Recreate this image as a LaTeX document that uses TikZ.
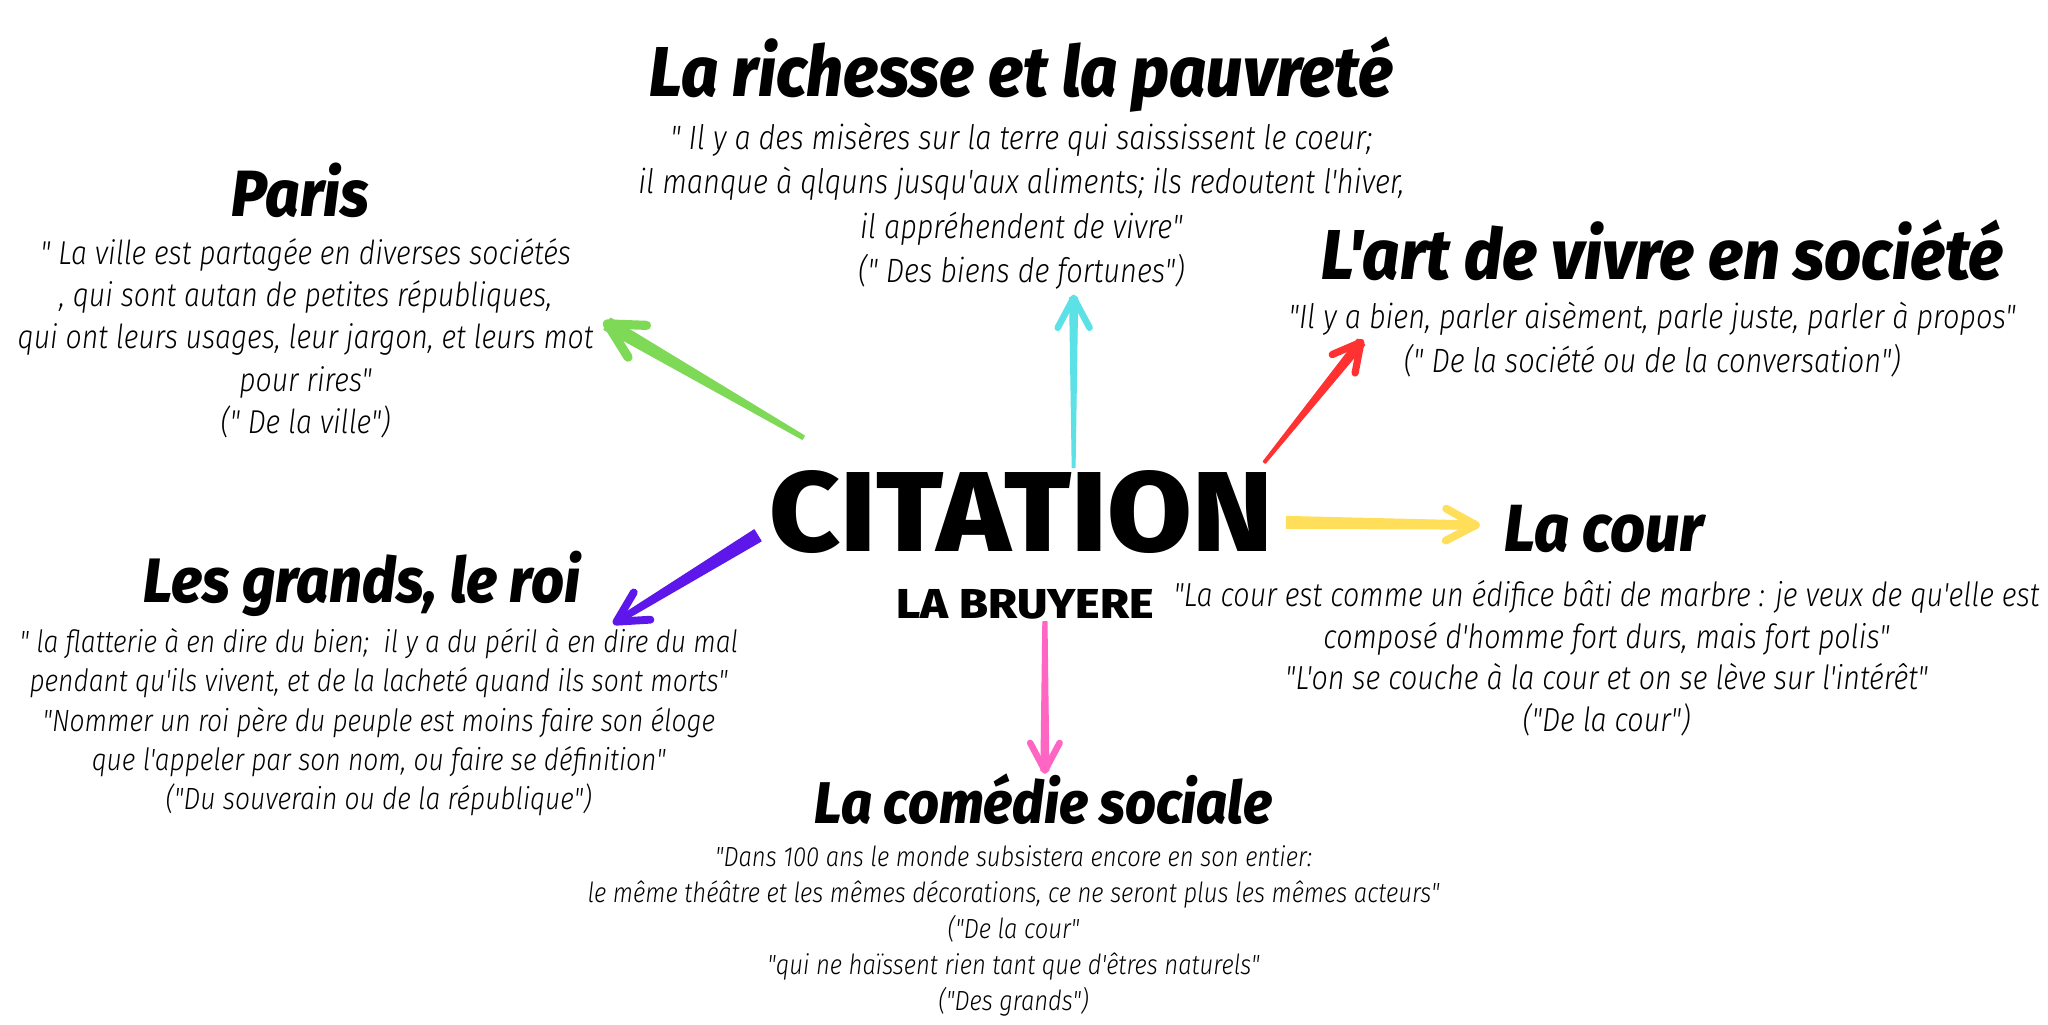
\documentclass[tikz,border=0pt]{standalone}
\usepackage{fontspec}
\usetikzlibrary{calc}
\newfontfamily\qfont{Fira Sans Light Italic}[FakeStretch=0.86]
\newfontfamily\tfont{Fira Sans ExtraBold Italic}[FakeStretch=0.92]
\newfontfamily\cfont{Fira Sans ExtraBold}[FakeStretch=1.08]
\newfontfamily\lfont{Fira Sans ExtraBold}[FakeStretch=1.12]
\definecolor{cgreen}{HTML}{7ED957}
\definecolor{ccyan}{HTML}{5CE1E6}
\definecolor{cred}{HTML}{FF3131}
\definecolor{cyellow}{HTML}{FFDE59}
\definecolor{cpurple}{HTML}{5E17EB}
\definecolor{cpink}{HTML}{FF66C4}
% color, tail, tip, half-width tail, half-width tip, head line width, arm length
\newcommand\brusharrow[7]{%
  \fill[#1, draw=#1, line width=1pt, line join=round]
    ($(#2)!#4!90:(#3)$) -- ($(#3)!#5!-90:(#2)$) -- ($(#3)!#5!90:(#2)$) -- ($(#2)!#4!-90:(#3)$) -- cycle;
  \draw[#1, line width=#6, line cap=round, line join=round]
    ($(#3)!#7!28:(#2)$) -- (#3) -- ($(#3)!#7!-28:(#2)$);
}
\tikzset{
  ttl/.style={font=\tfont\fontsize{#1}{#1}\selectfont, inner sep=0pt},
  qt/.style 2 args={font=\qfont\fontsize{#1}{#2}\selectfont, align=center, inner sep=0pt},
}
\begin{document}
\begin{tikzpicture}[x=1pt,y=1pt]
\useasboundingbox (0,0) rectangle (1568,784);
\fill[white] (0,0) rectangle (1568,784);

% centre
\node[font=\cfont\fontsize{87}{90}\selectfont, inner sep=0pt] (cit) at (782,392) {CITATION};
\node[font=\lfont\fontsize{32}{34}\selectfont, inner sep=0pt] (lab) at (785,321) {LA BRUYERE};

% titles
\node[ttl=54] (rich) at (782,727) {La richesse et la pauvreté};
\node[ttl=50] (paris) at (230,638) {Paris};
\node[ttl=54] (art) at (1273,592) {L'art de vivre en société};
\node[ttl=51] (cour) at (1228,379) {La cour};
\node[ttl=48] (grands) at (277,337) {Les grands, le roi};
\node[ttl=45] (comedie) at (799,172) {La comédie sociale};

% quotes
\node[qt={25.8}{34}] (qrich) at (782,626) {" Il y a des misères sur la terre qui saississent le coeur;\\
il manque à qlquns jusqu'aux aliments; ils redoutent l'hiver,\\
il appréhendent de vivre"\\
(" Des biens de fortunes")};
\node[qt={25.3}{32.5}] (qparis) at (234,525) {" La ville est partagée en diverses sociétés\\
, qui sont autan de petites républiques,\\
qui ont leurs usages, leur jargon, et leurs mot\\
pour rires"\\
(" De la ville")};
\node[qt={25.8}{34}] (qart) at (1265,524) {"Il y a bien, parler aisèment, parle juste, parler à propos"\\
(" De la société ou de la conversation")};
\node[qt={25.5}{32}] (qcour) at (1230,280) {"La cour est comme un édifice bâti de marbre : je veux de qu'elle est\\
composé d'homme fort durs, mais fort polis"\\
"L'on se couche à la cour et on se lève sur l'intérêt"\\
("De la cour")};
\node[qt={23.5}{30}] (qgrands) at (290,231) {" la flatterie à en dire du bien;\ \ il y a du péril à en dire du mal\\
pendant qu'ils vivent, et de la lacheté quand ils sont morts"\\
"Nommer un roi père du peuple est moins faire son éloge\\
que l'appeler par son nom, ou faire se définition"\\
("Du souverain ou de la république")};
\node[qt={21.2}{27.5}] (qcomedie) at (776,71) {"Dans 100 ans le monde subsistera encore en son entier:\\
le même théâtre et les mêmes décorations, ce ne seront plus les mêmes acteurs"\\
("De la cour"\\
"qui ne haïssent rien tant que d'êtres naturels"\\
("Des grands")};

% arrow ends
\coordinate (gT) at (615,449); \coordinate (gH) at (465,536);
\coordinate (cT) at (822,426); \coordinate (cH) at (822,556);
\coordinate (rT) at (968,430); \coordinate (rH) at (1042,522);
\coordinate (yT) at (985,384); \coordinate (yH) at (1130,382);
\coordinate (pT) at (580,374); \coordinate (pH) at (472,308);
\coordinate (kT) at (800,308); \coordinate (kH) at (800,194);

\brusharrow{cgreen}{gT}{gH}{1.5pt}{5pt}{7pt}{30pt}
\brusharrow{ccyan}{cT}{cH}{1pt}{3pt}{5pt}{26pt}
\brusharrow{cred}{rT}{rH}{1pt}{3.5pt}{5.5pt}{24pt}
\brusharrow{cyellow}{yT}{yH}{4.5pt}{3pt}{6pt}{26pt}
\brusharrow{cpurple}{pT}{pH}{5pt}{2pt}{6pt}{26pt}
\brusharrow{cpink}{kT}{kH}{1.5pt}{3pt}{5pt}{24pt}
\end{tikzpicture}
\end{document}
